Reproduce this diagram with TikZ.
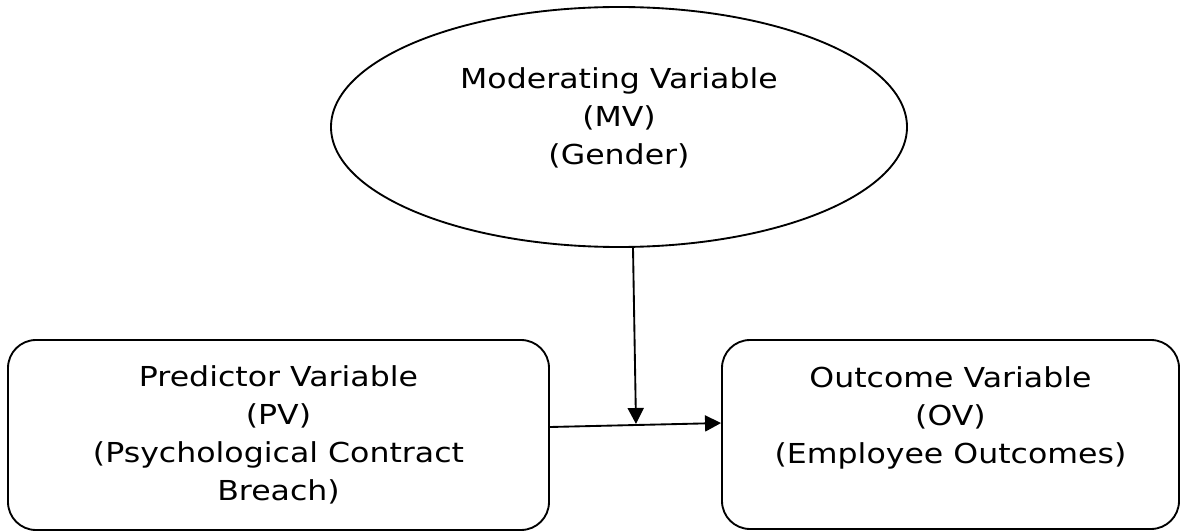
\documentclass[tikz,border=0pt]{standalone}
\usepackage{fontspec}
\setmainfont{DejaVu Sans}[FakeStretch=1.15]
\usetikzlibrary{shapes.geometric,arrows.meta}

\begin{document}
\begin{tikzpicture}[
    x=0.75pt, y=-0.75pt,
    box/.style={rectangle, draw, line width=1.4pt, rounded corners=21pt, align=center, font=\fontsize{20.6}{28.5}\selectfont},
    oval/.style={ellipse, draw, line width=1.4pt, align=center, font=\fontsize{20.6}{28.5}\selectfont},
    arrow/.style={-{Triangle[length=12pt,width=12pt]}, line width=1.4pt}
]
\useasboundingbox (0,0) rectangle (1181,531);

% Top: moderator
\node[oval, minimum width=432pt, minimum height=180pt] (mv) at (619,127) {Moderating Variable\\(MV)\\(Gender)\\[-12pt]\mbox{}};

% Bottom row: predictor and outcome
\node[box, minimum width=405.75pt, minimum height=142.5pt] (pv) at (278.5,435) {Predictor Variable\\(PV)\\(Psychological Contract\\Breach)};
\node[box, minimum width=342.75pt, minimum height=141.75pt] (ov) at (950.5,434.5) {Outcome Variable\\(OV)\\(Employee Outcomes)\\\mbox{}};

% Arrows
\coordinate (meet) at (636,424);
\draw[arrow] ([xshift=10.5pt]mv.south) -- (meet);
\draw[arrow] ([yshift=6pt]pv.east) -- ([yshift=8.6pt]ov.west);

\end{tikzpicture}
\end{document}
